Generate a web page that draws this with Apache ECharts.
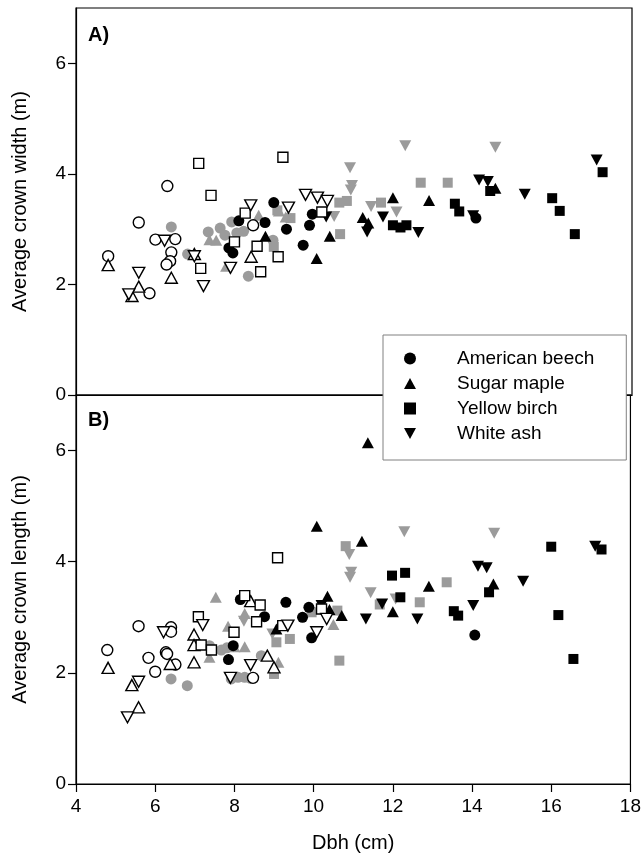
<!DOCTYPE html>
<html><head><meta charset="utf-8">
<script src="https://cdn.jsdelivr.net/npm/echarts@6/dist/echarts.min.js"></script>
<style>html,body{margin:0;padding:0;background:#fff}#c{width:644px;height:865px}</style>
</head><body><div id="c"></div>
<script>
// ---------- data ----------
const species = ['American beech', 'Sugar maple', 'Yellow birch', 'White ash'];
const xTicks = [4, 6, 8, 10, 12, 14, 16, 18];
const yTicks = [0, 2, 4, 6];

// Panel A: average crown width (m) vs Dbh (cm)
const widthBeechBlack = [[8.10,3.15],[8.98,3.48],[8.76,3.12],[9.30,3.00],[7.85,2.66],[7.95,2.57],[9.72,2.71],[9.95,3.27],[9.88,3.07],[14.07,3.20]];
const widthBeechGray  = [[6.40,3.04],[6.81,2.55],[7.33,2.95],[7.63,3.02],[7.75,2.89],[7.92,3.13],[8.34,2.15],[8.05,2.93],[8.22,2.96],[8.96,2.80]];
const widthBeechOpen  = [[6.30,3.78],[5.58,3.12],[6.00,2.81],[6.50,2.82],[6.40,2.58],[6.37,2.42],[6.28,2.36],[4.81,2.51],[5.85,1.84],[8.46,3.07]];
const widthMapleBlack = [[8.77,2.87],[10.39,2.87],[10.06,2.47],[11.22,3.21],[11.98,3.57],[12.89,3.52],[11.36,3.11],[14.56,3.74]];
const widthMapleGray  = [[7.36,2.81],[7.53,2.80],[8.60,3.25],[9.11,3.33],[9.28,3.22],[7.78,2.33]];
const widthMapleOpen  = [[4.81,2.35],[5.58,1.96],[5.41,1.79],[6.40,2.12],[6.98,2.55],[8.41,2.50]];
const widthBirchBlack = [[11.98,3.07],[12.17,3.03],[12.32,3.07],[13.54,3.46],[13.65,3.32],[14.43,3.69],[15.99,3.56],[16.18,3.33],[16.56,2.91],[17.26,4.03]];
const widthBirchGray  = [[10.63,3.48],[10.82,3.51],[11.68,3.48],[12.68,3.84],[13.36,3.84],[10.65,2.91],[9.40,3.20],[9.07,3.34],[8.98,2.68]];
const widthBirchOpen  = [[7.09,4.19],[9.21,4.30],[7.40,3.61],[8.26,3.29],[7.99,2.77],[8.56,2.69],[9.09,2.50],[7.14,2.29],[8.65,2.23],[10.19,3.31]];
const widthAshBlack   = [[11.73,3.22],[12.62,2.94],[11.33,2.95],[14.15,3.89],[14.37,3.86],[15.30,3.63],[17.11,4.25],[14.00,3.24],[10.30,3.22]];
const widthAshGray    = [[10.90,4.11],[10.95,3.79],[10.92,3.71],[12.29,4.51],[11.43,3.41],[12.07,3.31],[10.50,3.23],[14.56,4.48]];
const widthAshOpen    = [[5.33,1.82],[5.58,2.21],[6.23,2.79],[7.21,1.97],[7.89,2.30],[8.40,3.43],[9.35,3.39],[9.78,3.62],[10.08,3.57],[10.33,3.51],[6.98,2.51]];

// Panel B: average crown length (m) vs Dbh (cm)
const lengthBeechBlack = [[8.15,3.32],[9.30,3.27],[8.76,3.01],[7.85,2.24],[7.97,2.49],[9.72,3.00],[9.88,3.18],[9.95,2.63],[14.07,2.68]];
const lengthBeechGray  = [[6.40,1.89],[6.81,1.77],[7.92,1.89],[8.09,1.92],[8.26,1.92],[8.41,1.90],[7.67,2.41],[7.81,2.45],[7.37,2.49],[8.68,2.31]];
const lengthBeechOpen  = [[4.79,2.41],[5.58,2.84],[5.83,2.27],[6.00,2.02],[6.40,2.82],[6.40,2.74],[6.27,2.37],[6.30,2.34],[6.51,2.15],[8.47,1.91]];
const lengthMapleBlack = [[11.37,6.14],[10.08,4.64],[11.22,4.37],[10.35,3.38],[10.40,3.14],[10.71,3.03],[12.00,3.10],[12.91,3.56],[14.54,3.60],[9.06,2.79]];
const lengthMapleGray  = [[7.53,3.36],[7.84,2.84],[8.26,2.47],[7.37,2.28],[9.11,2.19],[8.26,3.07],[10.50,2.87],[8.00,2.47]];
const lengthMapleOpen  = [[4.81,2.09],[5.41,1.78],[5.58,1.38],[6.38,2.16],[6.98,2.69],[6.98,2.50],[6.98,2.19],[8.41,3.29],[8.83,2.31],[9.00,2.10]];
const lengthBirchBlack = [[11.98,3.75],[12.31,3.80],[12.19,3.36],[13.54,3.11],[13.65,3.03],[14.43,3.45],[16.00,4.27],[17.27,4.22],[16.18,3.04],[16.56,2.25]];
const lengthBirchGray  = [[10.81,4.28],[13.36,3.63],[12.68,3.27],[11.67,3.23],[10.60,3.12],[9.95,3.09],[9.40,2.61],[9.06,2.55],[10.65,2.22],[9.00,1.98]];
const lengthBirchOpen  = [[7.09,3.01],[7.99,2.73],[8.26,3.39],[8.65,3.22],[8.56,2.92],[7.16,2.50],[7.42,2.41],[9.22,2.85],[9.09,4.07],[10.20,3.15]];
const lengthAshBlack   = [[10.20,3.21],[11.32,2.97],[11.73,3.24],[12.62,2.97],[14.15,3.92],[14.37,3.89],[14.03,3.21],[15.29,3.65],[17.11,4.28]];
const lengthAshGray    = [[12.29,4.54],[10.90,4.13],[10.95,3.81],[10.92,3.72],[11.44,3.44],[12.07,3.33],[14.56,4.51],[8.96,2.70],[8.24,2.93]];
const lengthAshOpen    = [[5.30,1.20],[5.58,1.84],[6.21,2.73],[7.20,2.86],[7.90,1.91],[8.41,2.14],[9.35,2.85],[10.08,2.73],[10.33,2.97]];

// ---------- styling ----------
const FONT = '"Liberation Sans", Arial, sans-serif';
const shapes = [
  {symbol: 'circle', size: 11, rotate: 0, icon: 'circle'},
  {symbol: 'triangle', size: [12, 11], rotate: 0, icon: 'path://M6,0 L12,11 L0,11 Z'},
  {symbol: 'rect', size: 10, rotate: 0, icon: 'path://M0,0 L10,0 L10,10 L0,10 Z'},
  {symbol: 'triangle', size: [12, 11], rotate: 180, icon: 'path://M0,0 L12,0 L6,11 Z'}
];
const styles = {
  gray:  {color: '#9b9b9b', borderColor: '#9b9b9b', borderWidth: 0},
  black: {color: '#000', borderColor: '#000', borderWidth: 0},
  open:  {color: '#fff', borderColor: '#000', borderWidth: 1.4}
};
const panelData = [
  {gray: [widthBeechGray, widthMapleGray, widthBirchGray, widthAshGray],
   black: [widthBeechBlack, widthMapleBlack, widthBirchBlack, widthAshBlack],
   open: [widthBeechOpen, widthMapleOpen, widthBirchOpen, widthAshOpen]},
  {gray: [lengthBeechGray, lengthMapleGray, lengthBirchGray, lengthAshGray],
   black: [lengthBeechBlack, lengthMapleBlack, lengthBirchBlack, lengthAshBlack],
   open: [lengthBeechOpen, lengthMapleOpen, lengthBirchOpen, lengthAshOpen]}
];

const series = [];
panelData.forEach((pd, p) => {
  ['gray', 'black', 'open'].forEach(g => {
    pd[g].forEach((d, s) => {
      series.push({
        type: 'scatter',
        name: g === 'black' ? species[s] : species[s] + ' ' + g,
        xAxisIndex: p, yAxisIndex: p,
        data: d,
        symbol: shapes[s].symbol,
        symbolSize: shapes[s].size,
        symbolRotate: shapes[s].rotate,
        itemStyle: Object.assign({opacity: 1}, styles[g]),
        emphasis: {disabled: true},
        z: g === 'gray' ? 2 : (g === 'black' ? 3 : 4)
      });
    });
  });
});

const axisLineStyle = {color: '#000', width: 1.2};
function yAxisFor(idx, name) {
  return {
    type: 'value', gridIndex: idx, min: 0, max: 7,
    name: name, nameLocation: 'middle', nameGap: 46, nameRotate: 90,
    nameTextStyle: {fontFamily: FONT, fontSize: 20, color: '#000'},
    axisLine: {show: true, lineStyle: axisLineStyle},
    axisTick: {show: true, length: 8, lineStyle: axisLineStyle, customValues: yTicks},
    axisLabel: {fontFamily: FONT, fontSize: 19, color: '#000', margin: 10, customValues: yTicks},
    splitLine: {show: false}
  };
}
function xAxisFor(idx, showLabels) {
  return {
    type: 'value', gridIndex: idx, min: 4, max: 18, interval: 2,
    name: showLabels ? 'Dbh (cm)' : '', nameLocation: 'middle', nameGap: 49,
    nameTextStyle: {fontFamily: FONT, fontSize: 20, color: '#000'},
    axisLine: {show: true, lineStyle: axisLineStyle},
    axisTick: {show: showLabels, length: 8, lineStyle: axisLineStyle, customValues: xTicks},
    axisLabel: {show: showLabels, fontFamily: FONT, fontSize: 19, color: '#000', margin: 13, customValues: xTicks},
    splitLine: {show: false}
  };
}

const option = {
  animation: false,
  backgroundColor: '#fff',
  grid: [
    {left: 76, top: 8, width: 556, height: 387, show: true, borderColor: '#000', borderWidth: 1.2},
    {left: 76, top: 395, width: 556, height: 389, show: true, borderColor: '#000', borderWidth: 1.2}
  ],
  xAxis: [xAxisFor(0, false), xAxisFor(1, true)],
  yAxis: [yAxisFor(0, 'Average crown width (m)'), yAxisFor(1, 'Average crown length (m)')],
  legend: {
    data: species.map((n, i) => ({name: n, icon: shapes[i].icon})),
    orient: 'vertical', left: 383, top: 335,
    padding: [14, 32, 17, 21],
    itemWidth: 12, itemHeight: 12, itemGap: 6,
    backgroundColor: '#fff', borderColor: '#808080', borderWidth: 1,
    itemStyle: {color: '#000', borderWidth: 0},
    textStyle: {fontFamily: FONT, fontSize: 19, color: '#000', padding: [0, 0, 0, 36]},
    selectedMode: false
  },
  graphic: [
    {type: 'text', left: 88, top: 25, z: 10, style: {text: 'A)', font: 'bold 20px ' + FONT, fill: '#000'}},
    {type: 'text', left: 88, top: 410, z: 10, style: {text: 'B)', font: 'bold 20px ' + FONT, fill: '#000'}}
  ],
  series: series
};
echarts.init(document.getElementById('c')).setOption(option);
</script></body></html>
